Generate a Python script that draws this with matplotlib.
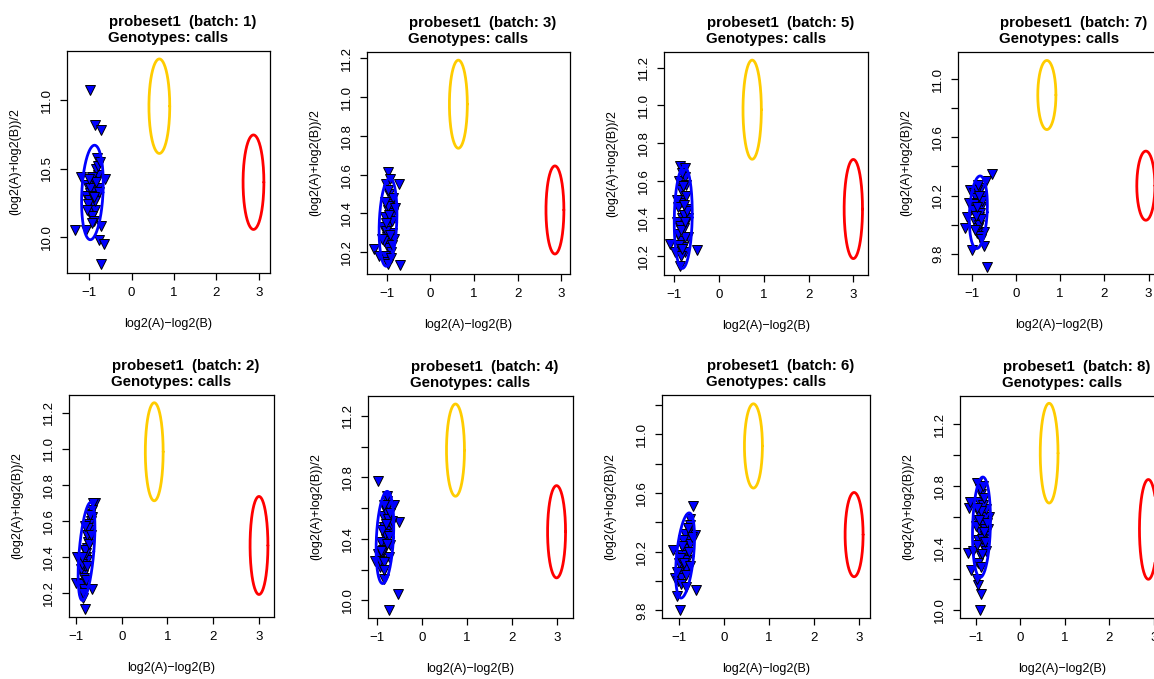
import numpy as np
import matplotlib
matplotlib.use("Agg")
import matplotlib.pyplot as plt

# ── data ──────────────────────────────────────────────────────────────────────
batches = [1, 3, 5, 7, 2, 4, 6, 8]

x_b1 = [-0.97, -0.85, -0.71, -0.81, -0.62, -1.20, -1.34, -1.07, -0.71, -0.76, -0.64, -0.71,
        -1.05, -0.98, -0.92, -0.88, -0.85, -0.95, -1.00, -0.90, -0.82, -0.78, -1.08, -0.96,
        -0.87, -0.93, -0.99, -0.84, -0.91, -1.02, -0.89, -0.80, -0.94, -0.86, -0.97, -1.04,
        -0.90, -0.83, -0.76, -0.92, -1.00, -0.88, -0.78, -0.75]
y_b1 = [11.07, 10.82, 10.78, 10.58, 10.42, 10.44, 10.05, 10.05, 10.08, 9.98, 9.95, 9.80,
        10.38, 10.32, 10.28, 10.41, 10.35, 10.22, 10.18, 10.25, 10.30, 10.45, 10.30, 10.40,
        10.20, 10.15, 10.27, 10.50, 10.34, 10.24, 10.12, 10.36, 10.44, 10.26, 10.36, 10.20,
        10.30, 10.40, 10.33, 10.10, 10.42, 10.29, 10.52, 10.55]

x_b3 = [-0.96, -0.73, -1.28, -1.18, -0.70,
        -1.02, -0.95, -0.90, -0.98, -1.05, -0.92, -0.88, -1.00, -0.94, -0.85, -1.08, -0.97,
        -0.91, -1.03, -0.86, -0.99, -0.93, -1.06, -0.89, -0.96, -1.01, -0.84, -0.95, -1.04,
        -0.90, -0.98, -0.87, -1.02, -0.93, -0.97, -1.10, -0.82]
y_b3 = [10.615, 10.55, 10.215, 10.18, 10.135,
        10.55, 10.50, 10.45, 10.42, 10.38, 10.35, 10.30, 10.28, 10.25, 10.40, 10.33, 10.22,
        10.20, 10.18, 10.48, 10.15, 10.58, 10.26, 10.36, 10.44, 10.31, 10.27, 10.39, 10.46,
        10.17, 10.52, 10.24, 10.35, 10.29, 10.14, 10.27, 10.43]

x_b5 = [-1.10, -0.49, -0.87, -0.75, -0.70, -0.87, -0.98,
        -0.90, -0.85, -0.80, -0.75, -0.72, -0.88, -0.83, -0.78, -0.93, -0.70, -0.86, -0.81,
        -0.76, -0.91, -0.74, -0.84, -0.79, -0.95, -0.73, -0.87, -0.82, -0.77, -0.89, -0.71,
        -0.85, -0.80, -0.92, -0.76, -0.83, -0.78]
y_b5 = [10.263, 10.233, 10.68, 10.67, 10.40, 10.15, 10.22,
        10.60, 10.55, 10.50, 10.62, 10.45, 10.48, 10.40, 10.35, 10.38, 10.30, 10.28, 10.25,
        10.22, 10.32, 10.58, 10.20, 10.42, 10.50, 10.52, 10.36, 10.64, 10.30, 10.26, 10.44,
        10.34, 10.57, 10.46, 10.38, 10.24, 10.47]

x_b7 = [-0.55, -0.66, -1.00, -0.72, -1.15, -1.04, -0.68, -1.10, -1.05, -0.72,
        -0.95, -0.90, -0.85, -0.80, -0.88, -0.83, -0.78, -0.92, -0.86, -0.81, -0.94, -0.76,
        -0.89, -0.84, -0.79, -0.97, -0.87, -0.82, -0.91, -0.77, -0.85, -0.93, -0.80, -0.88,
        -0.83]
y_b7 = [10.35, 9.71, 9.825, 9.85, 9.98, 10.24, 10.30, 10.05, 10.15, 9.95,
        10.22, 10.18, 10.15, 10.25, 10.10, 10.05, 10.12, 10.02, 9.98, 10.08, 10.14, 10.20,
        9.94, 10.00, 10.04, 10.10, 10.24, 9.92, 10.06, 10.16, 10.27, 9.96, 9.90, 10.12,
        10.20]

x_b2 = [-0.585, -0.62, -0.80, -0.985, -1.00, -0.84, -0.66,
        -0.88, -0.85, -0.80, -0.78, -0.75, -0.72, -0.70, -0.68, -0.82, -0.77, -0.74, -0.65,
        -0.90, -0.83, -0.79, -0.71, -0.86, -0.76, -0.69, -0.81, -0.73, -0.64, -0.87, -0.78,
        -0.72, -0.84, -0.67, -0.80, -0.75, -0.70]
y_b2 = [10.70, 10.70, 10.11, 10.40, 10.255, 10.17, 10.22,
        10.25, 10.30, 10.35, 10.40, 10.45, 10.50, 10.55, 10.60, 10.22, 10.38, 10.48, 10.62,
        10.33, 10.28, 10.42, 10.58, 10.36, 10.52, 10.64, 10.44, 10.56, 10.66, 10.40, 10.27,
        10.47, 10.20, 10.52, 10.57, 10.35, 10.63]

x_b4 = [-0.98, -0.74, -0.53, -0.51, -1.05, -0.98, -0.62, -0.86,
        -0.95, -0.90, -0.85, -0.80, -0.75, -0.70, -0.88, -0.83, -0.78, -0.73, -0.92, -0.86,
        -0.81, -0.76, -0.68, -0.93, -0.87, -0.82, -0.77, -0.72, -0.89, -0.84, -0.79, -0.74,
        -0.91, -0.86, -0.80, -0.71, -0.85, -0.78]
y_b4 = [10.78, 9.935, 10.04, 10.51, 10.255, 10.30, 10.62, 10.14,
        10.22, 10.30, 10.35, 10.40, 10.45, 10.50, 10.55, 10.60, 10.65, 10.28, 10.38, 10.48,
        10.58, 10.62, 10.52, 10.26, 10.33, 10.43, 10.53, 10.36, 10.46, 10.25, 10.68, 10.42,
        10.32, 10.20, 10.50, 10.57, 10.62, 10.37]

x_b6 = [-0.70, -0.99, -1.05, -0.62, -1.13, -0.77, -0.65, -1.10,
        -1.02, -0.98, -0.95, -0.92, -0.88, -0.85, -0.82, -0.78, -0.75, -1.00, -0.96, -0.90,
        -0.86, -0.80, -0.76, -1.04, -0.93, -0.87, -0.83, -0.79, -0.97, -0.91, -0.84, -0.72,
        -0.99, -0.89, -0.81, -0.94, -0.86, -0.77]
y_b6 = [10.51, 9.80, 9.895, 9.94, 10.21, 10.42, 10.31, 10.02,
        10.00, 10.05, 10.10, 10.15, 10.20, 10.25, 10.30, 10.35, 10.38, 10.12, 10.02, 10.22,
        10.08, 10.28, 10.25, 10.06, 10.18, 10.32, 10.14, 10.20, 9.98, 10.28, 10.04, 10.30,
        10.16, 10.12, 10.36, 10.24, 9.96, 10.10]

x_b8 = [-0.90, -0.89, -0.94, -0.98, -1.11, -1.17, -1.14, -0.98, -0.72, -1.12, -1.06, -0.70,
        -0.95, -0.90, -0.85, -0.80, -0.76, -0.92, -0.87, -0.82, -0.78, -0.97, -0.93, -0.88,
        -0.83, -0.79, -0.74, -0.96, -0.91, -0.86, -0.81, -0.77, -1.00, -0.94, -0.89, -0.84,
        -0.80, -0.92, -0.87, -0.82, -0.98, -0.85]
y_b8 = [10.00, 10.10, 10.16, 10.20, 10.26, 10.37, 10.66, 10.82, 10.52, 10.70, 10.38, 10.60,
        10.45, 10.50, 10.55, 10.60, 10.65, 10.70, 10.75, 10.40, 10.48, 10.58, 10.62, 10.35,
        10.68, 10.52, 10.56, 10.42, 10.78, 10.46, 10.72, 10.38, 10.54, 10.30, 10.64, 10.80,
        10.44, 10.58, 10.28, 10.50, 10.66, 10.36]

points = {1: (x_b1, y_b1), 3: (x_b3, y_b3), 5: (x_b5, y_b5), 7: (x_b7, y_b7),
          2: (x_b2, y_b2), 4: (x_b4, y_b4), 6: (x_b6, y_b6), 8: (x_b8, y_b8)}

# genotype ellipses: (cx, cy, half-width, half-height, shear)
ell_blue = {1: (-0.92, 10.325, 0.25, 0.345, 0.05), 3: (-0.97, 10.355, 0.20, 0.227, 0.04),
            5: (-0.80, 10.405, 0.20, 0.270, 0.02), 7: (-0.85, 10.085, 0.20, 0.250, 0.04),
            2: (-0.77, 10.430, 0.16, 0.272, 0.09), 4: (-0.83, 10.410, 0.19, 0.300, 0.05),
            6: (-0.87, 10.174, 0.19, 0.290, 0.09), 8: (-0.87, 10.534, 0.20, 0.324, 0.03)}
ell_gold = {1: (0.655, 10.955, 0.245, 0.345, 0.0), 3: (0.64, 10.963, 0.205, 0.227, 0.0),
            5: (0.74, 10.977, 0.205, 0.263, 0.0), 7: (0.70, 10.892, 0.205, 0.238, 0.0),
            2: (0.71, 10.983, 0.195, 0.272, 0.0), 4: (0.74, 10.978, 0.20, 0.300, 0.0),
            6: (0.65, 10.920, 0.20, 0.287, 0.0), 8: (0.65, 11.012, 0.20, 0.322, 0.0)}
ell_red = {1: (2.87, 10.400, 0.245, 0.345, 0.0), 3: (2.85, 10.418, 0.205, 0.227, 0.0),
           5: (3.00, 10.450, 0.205, 0.263, 0.0), 7: (2.94, 10.268, 0.205, 0.238, 0.0),
           2: (3.00, 10.463, 0.195, 0.272, 0.0), 4: (2.99, 10.447, 0.20, 0.300, 0.0),
           6: (2.89, 10.316, 0.20, 0.287, 0.0), 8: (2.88, 10.520, 0.20, 0.322, 0.0)}

# y ticks and which of them carry a label
yticks = {1: [10.0, 10.5, 11.0], 3: [10.2, 10.4, 10.6, 10.8, 11.0, 11.2],
          5: [10.2, 10.4, 10.6, 10.8, 11.0, 11.2], 7: [9.8, 10.0, 10.2, 10.4, 10.6, 10.8, 11.0],
          2: [10.2, 10.4, 10.6, 10.8, 11.0, 11.2], 4: [10.0, 10.2, 10.4, 10.6, 10.8, 11.0, 11.2],
          6: [9.8, 10.0, 10.2, 10.4, 10.6, 10.8, 11.0, 11.2],
          8: [10.0, 10.2, 10.4, 10.6, 10.8, 11.0, 11.2]}
ylabeled = {1: "all", 3: "all", 5: "all", 2: "all", 7: "even", 4: "even", 6: "even", 8: "even"}
xticks = [-1, 0, 1, 2, 3]

# ── layout: frame in pixels (left, top, right, bottom) and axis limits ────────
W, H = 1154, 679
frames = {1: (67, 51, 270, 273), 3: (367, 52, 570, 274), 5: (664, 52, 868, 275),
          7: (958, 52, 1160, 274), 2: (69, 395, 274, 617), 4: (368, 396, 573, 618),
          6: (662, 395, 870, 618), 8: (960, 396, 1165, 618)}
xlims = {1: (-1.518, 3.259), 3: (-1.451, 3.195), 5: (-1.23, 3.328), 7: (-1.31, 3.26),
         2: (-1.153, 3.328), 4: (-1.207, 3.356), 6: (-1.384, 3.244), 8: (-1.353, 3.254)}
ylims = {1: (9.737, 11.358), 3: (10.088, 11.232), 5: (10.10, 11.283), 7: (9.66, 11.188),
         2: (10.066, 11.298), 4: (9.886, 11.33), 6: (9.748, 11.267), 8: (9.948, 11.381)}

plt.rcParams.update({
    "font.family": ["Liberation Sans", "DejaVu Sans"],
    "font.size": 9,
    "axes.linewidth": 0.9,
    "xtick.major.size": 5,
    "ytick.major.size": 5,
    "xtick.major.width": 0.9,
    "ytick.major.width": 0.9,
    "xtick.direction": "out",
    "ytick.direction": "out",
    "xtick.labelsize": 9.5,
    "ytick.labelsize": 9.5,
})

BLUE = "#0000FF"
GOLD = "#FFCC00"
RED = "#FF0000"
PX = 0.72  # points per pixel at dpi 100


def ellipse(ax, params, color):
    cx, cy, a, b, s = params
    t = np.linspace(0, 2 * np.pi, 200)
    ax.plot(cx + a * np.cos(t) + s * np.sin(t), cy + b * np.sin(t),
            color=color, lw=2.0, solid_capstyle="round")


def fmt(v):
    return f"{v:g}".replace("-", "\u2212")


fig = plt.figure(figsize=(W / 100, H / 100), dpi=100)

for b in batches:
    l, t, r, btm = frames[b]
    ax = fig.add_axes([l / W, 1 - btm / H, (r - l) / W, (btm - t) / H])
    xs, ys = points[b]
    ax.plot(xs, ys, "v", color=BLUE, markeredgecolor="black",
            markeredgewidth=0.7, markersize=6.8, linestyle="none")
    ellipse(ax, ell_blue[b], BLUE)
    ellipse(ax, ell_gold[b], GOLD)
    ellipse(ax, ell_red[b], RED)

    ax.set_xlim(*xlims[b])
    ax.set_ylim(*ylims[b])
    ax.set_xticks(xticks)
    ax.set_xticklabels([fmt(v) for v in xticks])
    ticks = yticks[b]
    ax.set_yticks(ticks)
    if ylabeled[b] == "all":
        labs = [f"{v:.1f}" for v in ticks]
    else:
        labs = [f"{v:.1f}" if i % 2 == 0 else "" for i, v in enumerate(ticks)]
    ax.set_yticklabels(labs)
    ax.tick_params(axis="y", labelrotation=90, pad=5)
    ax.tick_params(axis="x", pad=5)
    for lab in ax.get_yticklabels():
        lab.set_va("center")

    h = btm - t
    w = r - l
    ax.set_xlabel("log2(A)\u2212log2(B)", fontsize=9)
    ax.set_ylabel("(log2(A)+log2(B))/2", fontsize=9)
    ax.xaxis.set_label_coords(0.5, -45 / h)
    ax.yaxis.set_label_coords(-46 / w, 0.5)

    ax.annotate(f"probeset1  (batch: {b})", xy=(0.5, 1), xycoords="axes fraction",
                xytext=(14.5 * PX, 29 * PX), textcoords="offset points",
                ha="center", va="center", fontsize=10.8, fontweight="bold")
    ax.annotate("Genotypes: calls", xy=(0.5, 1), xycoords="axes fraction",
                xytext=(0, 13 * PX), textcoords="offset points",
                ha="center", va="center", fontsize=10.8, fontweight="bold")

fig.savefig("out.png", dpi=100)
